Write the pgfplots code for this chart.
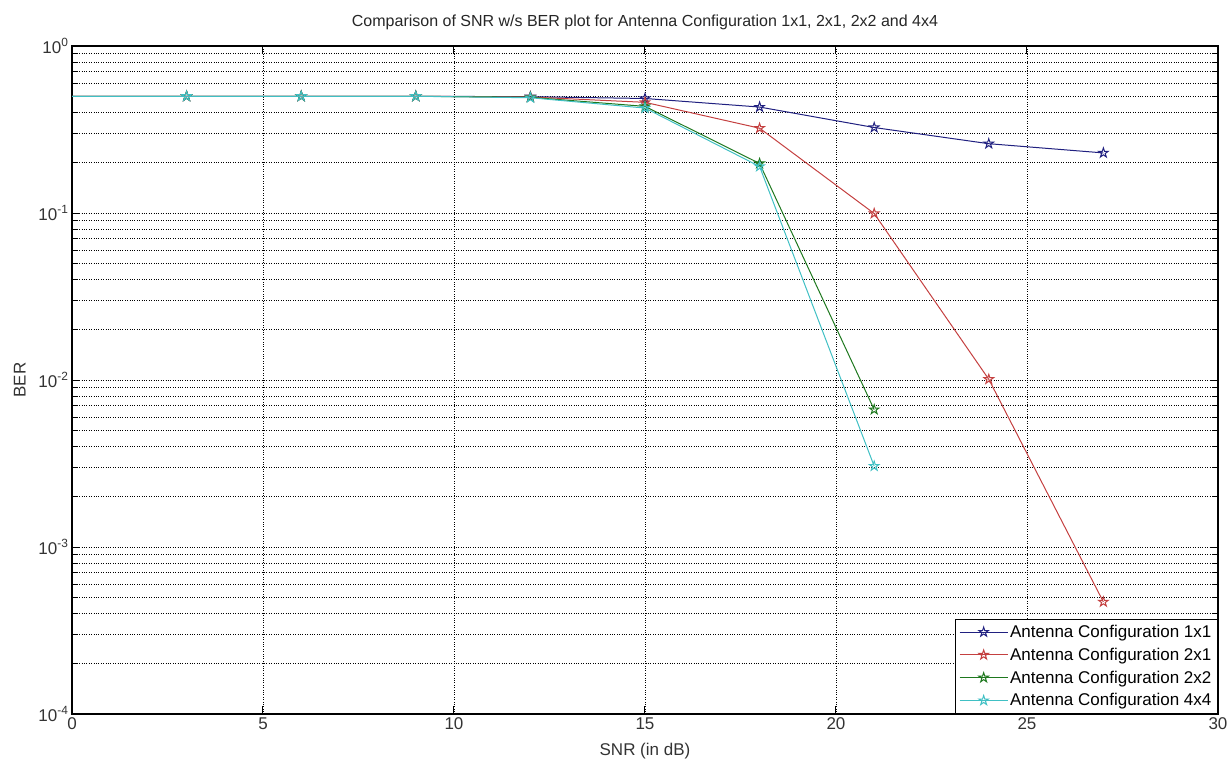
\documentclass[border=0pt]{standalone}
\usepackage{pgfplots}
\pgfplotsset{compat=1.18}
\usepackage{fontspec}
\setmainfont{Liberation Sans}

\definecolor{c1}{RGB}{32,32,128}
\definecolor{c2}{RGB}{196,64,64}
\definecolor{c3}{RGB}{30,120,30}
\definecolor{c4}{RGB}{64,192,196}

% MATLAB style five-pointed star outline
\pgfdeclareplotmark{pentagram}{%
  \pgfpathmoveto{\pgfpointpolar{90}{\pgfplotmarksize}}%
  \foreach \k in {1,...,9}{%
    \pgfmathsetmacro\ang{90+36*\k}%
    \pgfmathsetmacro\rr{mod(\k,2)==0 ? 1 : 0.382}%
    \pgfpathlineto{\pgfpointpolar{\ang}{\rr\pgfplotmarksize}}%
  }%
  \pgfpathclose
  \pgfusepathqstroke
}

\begin{document}
\begin{tikzpicture}[x=1pt,y=1pt]
  \path[use as bounding box] (-72,-46) rectangle (1159,714);
  \begin{axis}[
    at={(0,0)}, anchor=south west,
    scale only axis, width=1146pt, height=668pt,
    ymode=log,
    xmin=0, xmax=30, ymin=1e-4, ymax=1,
    clip marker paths=true,
    xtick={0,5,...,30},
    ytick={1e-4,1e-3,1e-2,1e-1,1},
    yticklabels={10\textsuperscript{-4},10\textsuperscript{-3},10\textsuperscript{-2},10\textsuperscript{-1},10\textsuperscript{0}},
    /pgf/number format/assume math mode=true,
    tick align=inside,
    major tick length=8pt, minor tick length=5pt,
    grid=both,
    major grid style={black, dotted, line width=0.9pt},
    minor grid style={black, dotted, line width=0.9pt},
    axis line style={black, line width=1.1pt},
    tick style={black, line width=1pt},
    tick label style={font=\fontsize{17}{20}\selectfont, text=black!80},
    label style={font=\fontsize{17}{20}\selectfont, text=black!80},
    title style={font=\fontsize{16}{19}\selectfont, text=black!85, yshift=7pt},
    title={Comparison of SNR w/s BER plot for Antenna Configuration 1x1, 2x1, 2x2 and 4x4},
    xlabel={SNR (in dB)},
    ylabel={BER},
    xlabel style={at={(rel axis cs:0.5,0)}, anchor=center, yshift=-37pt},
    ylabel style={yshift=6pt},
    legend style={
      at={(rel axis cs:1,0)}, anchor=south east,
      font=\fontsize{17}{20}\selectfont,
      draw=black, line width=1.1pt,
      row sep=5pt, inner xsep=4pt, inner ysep=4pt,
      cells={anchor=west},
    },
    legend image post style={line width=0.9pt},
    legend image code/.code={
      \draw[#1] (0pt,0pt) -- (48pt,0pt);
      \draw[#1, only marks] plot coordinates {(24pt,0pt)};
    },
    every axis plot/.append style={line width=1pt, mark=pentagram, mark size=5pt,
      mark options={solid, line width=1pt}},
  ]
    \addplot[c1] coordinates {
      (-3,0.5)(3,0.5)(6,0.5)(9,0.5)(12,0.497)(15,0.485)(18,0.431)(21,0.325)(24,0.26)(27,0.229)
    };
    \addlegendentry{Antenna Configuration 1x1}
    \addplot[c2] coordinates {
      (-3,0.5)(3,0.5)(6,0.5)(9,0.5)(12,0.495)(15,0.46)(18,0.322)(21,0.0993)(24,0.0101)(27,0.000469)
    };
    \addlegendentry{Antenna Configuration 2x1}
    \addplot[c3] coordinates {
      (-3,0.5)(3,0.5)(6,0.5)(9,0.5)(12,0.493)(15,0.435)(18,0.198)(21,0.00665)
    };
    \addlegendentry{Antenna Configuration 2x2}
    \addplot[c4] coordinates {
      (-3,0.5)(3,0.5)(6,0.5)(9,0.5)(12,0.49)(15,0.425)(18,0.19)(21,0.00305)
    };
    \addlegendentry{Antenna Configuration 4x4}
  \end{axis}
\end{tikzpicture}
\end{document}
